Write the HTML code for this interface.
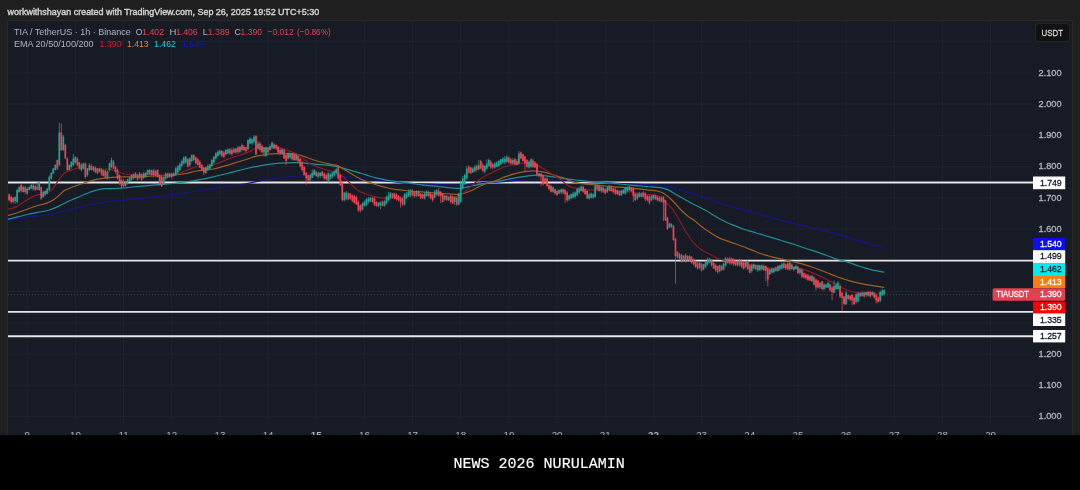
<!DOCTYPE html>
<html><head><meta charset="utf-8"><style>
html,body{margin:0;padding:0;background:#1f1f1f;}
body{width:1080px;height:490px;overflow:hidden;position:relative;}
</style></head><body>
<svg width="1080" height="490" viewBox="0 0 1080 490" style="position:absolute;left:0;top:0">
<defs><filter id="bl" x="0" y="0" width="1" height="1" color-interpolation-filters="sRGB"><feGaussianBlur stdDeviation="0.35"/></filter></defs>
<g filter="url(#bl)">
<rect width="1080" height="490" fill="#1f1f1f"/>
<rect x="7" y="20" width="1066" height="415" fill="#2a2a2a"/>
<rect x="8" y="21" width="1064" height="414" fill="#171b26"/>
<path d="M27.2 21V424.3M75.4 21V424.3M123.5 21V424.3M171.7 21V424.3M219.9 21V424.3M268.1 21V424.3M316.2 21V424.3M364.4 21V424.3M412.6 21V424.3M460.7 21V424.3M508.9 21V424.3M557.1 21V424.3M605.2 21V424.3M653.4 21V424.3M701.6 21V424.3M749.8 21V424.3M797.9 21V424.3M846.1 21V424.3M894.3 21V424.3M942.4 21V424.3M990.6 21V424.3M8 416.6H1032M8 385.4H1032M8 354.1H1032M8 322.9H1032M8 291.6H1032M8 260.4H1032M8 229.1H1032M8 197.9H1032M8 166.6H1032M8 135.4H1032M8 104.1H1032M8 72.9H1032M8 41.2H1032" stroke="#1f2330" stroke-width="1"/>
<path d="M8 182.54H1033M8 260.66H1033M8 311.91H1033M8 336.29H1033" stroke="#e6e6e6" stroke-width="1.9"/>
<path d="M8 294.7H993" stroke="#e5404f" stroke-width="0.8" stroke-dasharray="1 2" opacity="0.55"/>
<path d="M8.0 220.4C9.4 220.1 13.4 219.1 16.6 218.6C19.8 218.1 23.7 217.7 27.2 217.2C30.7 216.7 34.3 216.2 37.8 215.8C41.3 215.4 44.9 215.1 48.4 214.5C51.9 213.9 55.5 213.2 59.0 212.4C62.5 211.6 66.8 210.5 69.6 209.8C72.4 209.1 72.6 209.0 76.0 208.2C79.4 207.4 85.0 206.0 90.0 205.0C95.0 204.0 100.7 202.8 106.0 202.0C111.3 201.2 116.4 200.9 122.0 200.3C127.6 199.7 134.1 199.2 139.8 198.6C145.6 198.0 151.0 197.2 156.5 196.5C162.0 195.8 168.1 195.0 173.0 194.4C177.9 193.8 182.1 193.4 186.0 192.8C189.9 192.2 192.1 191.7 196.7 191.0C201.3 190.3 207.8 189.3 213.4 188.5C219.0 187.7 224.6 186.8 230.2 186.0C235.8 185.2 241.3 184.5 246.9 183.5C252.5 182.5 258.0 181.2 263.6 180.2C269.2 179.2 274.7 178.4 280.3 177.7C285.9 177.0 291.4 176.4 297.0 176.0C302.6 175.6 308.3 175.4 313.8 175.4C319.3 175.4 325.8 175.8 330.0 175.9C334.2 176.0 336.1 175.9 339.2 176.1C342.3 176.3 345.3 176.7 348.4 177.0C351.5 177.3 354.5 177.8 357.6 178.2C360.7 178.6 363.7 179.0 366.8 179.3C369.9 179.6 372.9 179.9 376.0 180.2C379.1 180.5 381.9 180.7 385.1 181.0C388.3 181.3 391.6 181.6 395.0 181.9C398.4 182.2 400.7 182.8 405.2 183.1C409.7 183.4 416.3 183.6 421.9 183.8C427.5 184.0 433.0 184.3 438.6 184.5C444.2 184.7 451.4 185.1 455.3 185.2C459.2 185.3 459.2 185.4 462.0 185.2C464.8 185.0 467.6 184.3 472.1 183.8C476.6 183.3 485.0 182.4 488.8 182.1C492.6 181.8 492.2 182.3 495.0 182.2C497.8 182.1 502.1 181.6 505.6 181.3C509.1 181.0 512.7 180.6 516.2 180.3C519.7 180.1 523.3 180.0 526.8 179.8C530.3 179.7 533.9 179.5 537.4 179.4C540.9 179.3 544.5 179.4 548.0 179.5C551.5 179.6 555.8 179.7 558.6 179.8C561.4 179.9 561.4 179.9 565.0 180.1C568.6 180.3 574.9 180.9 580.2 181.2C585.5 181.5 591.3 181.8 596.9 182.1C602.5 182.4 608.0 182.8 613.6 183.1C619.2 183.4 624.7 183.6 630.3 183.9C635.9 184.2 642.1 184.5 647.1 184.8C652.1 185.1 656.2 185.0 660.4 185.5C664.6 186.0 668.2 186.7 672.1 187.6C676.0 188.5 679.6 189.7 683.8 191.0C688.0 192.3 692.8 193.9 697.2 195.4C701.6 196.9 705.8 198.4 710.0 199.8C714.2 201.2 718.3 202.7 722.5 204.0C726.7 205.3 730.8 206.5 735.0 207.6C739.2 208.7 743.3 209.4 747.5 210.6C751.7 211.8 755.4 213.2 760.3 214.6C765.2 216.0 771.5 217.7 777.1 219.2C782.7 220.7 788.2 222.0 793.8 223.4C799.4 224.8 804.9 226.2 810.5 227.5C816.1 228.8 822.3 230.1 827.2 231.4C832.1 232.7 835.5 233.7 840.0 235.1C844.5 236.5 849.9 238.4 854.3 239.7C858.7 241.0 862.9 242.1 866.5 243.1C870.1 244.1 872.8 244.7 875.7 245.4C878.7 246.1 882.8 247.0 884.2 247.3" stroke="#15158c" stroke-width="1.2" fill="none"/><path d="M8.0 219.3C9.4 219.0 13.4 218.0 16.6 217.2C19.8 216.4 23.7 215.3 27.2 214.5C30.7 213.7 34.3 213.1 37.8 212.4C41.3 211.7 44.9 211.4 48.4 210.3C51.9 209.2 55.5 207.7 59.0 206.1C62.5 204.5 66.8 202.1 69.6 200.8C72.4 199.5 72.7 199.5 76.0 198.1C79.3 196.7 85.3 193.9 89.6 192.3C93.9 190.8 97.8 189.4 102.0 188.8C106.2 188.2 110.5 188.8 114.7 188.6C118.9 188.4 122.8 188.0 127.0 187.6C131.2 187.2 134.9 186.8 139.8 186.4C144.7 186.0 151.0 185.4 156.5 184.9C162.0 184.4 168.1 183.8 173.0 183.3C177.9 182.8 182.1 182.4 186.0 181.9C189.9 181.4 192.1 181.0 196.7 180.2C201.3 179.3 207.8 178.1 213.4 176.8C219.0 175.6 224.6 174.1 230.2 172.7C235.8 171.3 241.3 169.8 246.9 168.5C252.5 167.2 258.0 166.0 263.6 165.1C269.2 164.2 274.7 163.5 280.3 163.1C285.9 162.7 291.4 162.4 297.0 162.6C302.6 162.8 308.3 163.6 313.8 164.1C319.3 164.6 325.8 164.8 330.0 165.3C334.2 165.8 336.1 166.2 339.2 166.9C342.3 167.6 345.3 168.8 348.4 169.7C351.5 170.6 354.5 171.5 357.6 172.4C360.7 173.3 363.7 174.3 366.8 175.2C369.9 176.1 372.9 177.1 376.0 177.9C379.1 178.7 381.9 179.2 385.1 179.8C388.3 180.4 391.6 180.9 395.0 181.4C398.4 181.9 400.7 182.0 405.2 182.6C409.7 183.2 416.3 184.2 421.9 184.8C427.5 185.5 433.0 185.9 438.6 186.5C444.2 187.1 451.4 187.9 455.3 188.2C459.2 188.5 459.2 188.6 462.0 188.2C464.8 187.8 467.6 186.9 472.1 186.0C476.6 185.1 485.0 183.3 488.8 182.6C492.6 181.8 492.2 182.0 495.0 181.5C497.8 181.0 502.1 180.5 505.6 179.8C509.1 179.2 512.7 178.2 516.2 177.6C519.7 177.0 523.3 176.5 526.8 176.1C530.3 175.7 533.9 175.2 537.4 175.2C540.9 175.2 544.5 175.7 548.0 176.1C551.5 176.5 555.8 177.2 558.6 177.6C561.4 178.0 561.4 178.2 565.0 178.7C568.6 179.2 574.9 179.8 580.2 180.4C585.5 181.0 591.3 181.6 596.9 182.1C602.5 182.6 608.0 182.9 613.6 183.4C619.2 183.9 624.7 184.6 630.3 185.1C635.9 185.6 642.1 186.1 647.1 186.5C652.1 186.9 656.8 187.0 660.4 187.6C664.0 188.2 666.0 188.8 668.8 190.1C671.6 191.4 673.9 193.2 677.2 195.2C680.6 197.1 685.6 200.0 688.9 201.8C692.2 203.6 693.7 204.2 697.2 206.0C700.7 207.8 706.5 210.8 710.0 212.9C713.5 215.0 715.7 216.7 718.5 218.3C721.3 219.9 724.1 221.2 726.9 222.5C729.7 223.8 732.5 224.8 735.3 225.9C738.1 227.0 740.8 228.2 743.6 229.2C746.4 230.2 749.2 230.9 752.0 231.7C754.8 232.5 757.5 233.4 760.3 234.2C763.1 235.0 765.9 235.9 768.7 236.7C771.5 237.5 774.3 238.3 777.1 239.2C779.9 240.0 782.6 241.0 785.4 241.8C788.2 242.7 790.5 243.2 793.8 244.3C797.1 245.4 801.1 246.8 805.3 248.2C809.5 249.6 813.8 250.8 818.9 252.6C824.0 254.4 831.8 257.5 835.9 258.9C840.0 260.3 841.0 260.2 843.5 260.9C846.0 261.6 848.7 262.4 851.2 263.3C853.8 264.2 856.2 265.2 858.8 266.0C861.3 266.8 864.0 267.6 866.5 268.3C869.0 269.0 871.1 269.7 874.1 270.3C877.1 270.9 882.5 271.8 884.2 272.1" stroke="#1b9095" stroke-width="1.2" fill="none"/><path d="M8.0 215.6C9.4 215.2 13.4 214.1 16.6 213.0C19.8 211.9 23.7 210.4 27.2 209.2C30.7 207.9 34.6 206.5 37.8 205.5C41.0 204.5 43.6 204.4 46.3 203.4C48.9 202.4 51.6 201.0 53.7 199.7C55.8 198.4 57.2 197.0 59.0 195.5C60.8 194.0 62.5 191.8 64.3 190.6C66.1 189.4 67.6 189.0 69.6 188.2C71.5 187.4 73.8 186.6 76.0 185.8C78.2 185.0 79.5 184.6 82.9 183.5C86.3 182.4 91.8 180.4 96.3 179.4C100.8 178.4 105.2 178.1 109.7 177.7C114.2 177.3 118.0 177.1 123.0 176.9C128.0 176.7 134.2 176.8 139.8 176.7C145.4 176.5 151.0 176.2 156.5 176.0C162.0 175.8 168.1 175.6 173.0 175.2C177.9 174.8 182.1 174.2 186.0 173.5C189.9 172.8 192.1 171.8 196.7 171.0C201.3 170.2 207.8 170.1 213.4 169.0C219.0 167.9 224.6 165.9 230.2 164.3C235.8 162.7 242.7 160.6 246.9 159.3C251.1 158.0 252.5 157.1 255.3 156.3C258.1 155.6 259.4 155.3 263.6 154.8C267.8 154.3 274.7 153.5 280.3 153.4C285.9 153.3 291.4 153.2 297.0 154.3C302.6 155.4 308.3 158.4 313.8 160.0C319.3 161.6 326.1 163.2 330.0 164.1C333.9 165.0 335.1 164.7 337.4 165.5C339.7 166.3 341.2 167.7 343.8 169.2C346.4 170.7 349.9 172.9 353.0 174.7C356.1 176.5 359.1 178.4 362.2 179.8C365.3 181.2 368.3 181.9 371.4 183.0C374.4 184.1 377.4 185.3 380.5 186.2C383.6 187.1 387.0 187.9 389.7 188.5C392.4 189.1 394.2 189.3 396.8 189.6C399.4 189.9 401.0 190.1 405.2 190.5C409.4 190.9 416.3 191.4 421.9 191.8C427.5 192.2 433.0 192.8 438.6 193.2C444.2 193.6 451.4 194.2 455.3 194.3C459.2 194.4 459.2 194.5 462.0 193.8C464.8 193.1 468.8 191.6 472.1 190.2C475.5 188.8 478.3 186.8 482.1 185.2C485.9 183.6 491.1 182.2 495.0 180.8C498.9 179.4 502.1 177.8 505.6 176.6C509.1 175.4 512.7 174.3 516.2 173.4C519.7 172.5 523.6 171.7 526.8 171.3C530.0 170.9 532.6 170.9 535.3 171.0C537.9 171.1 540.2 171.3 542.7 171.8C545.2 172.3 547.5 173.1 550.1 173.9C552.8 174.7 556.1 175.8 558.6 176.6C561.1 177.4 562.8 177.7 565.0 178.5C567.2 179.3 569.3 180.8 571.8 181.6C574.3 182.4 576.0 182.8 580.2 183.4C584.4 184.0 591.3 184.5 596.9 185.1C602.5 185.7 608.0 186.3 613.6 186.8C619.2 187.3 624.7 187.6 630.3 188.1C635.9 188.6 642.6 189.3 647.1 189.8C651.6 190.3 654.3 190.4 657.1 191.0C659.9 191.6 661.3 192.0 663.8 193.5C666.3 195.0 669.3 197.5 672.1 200.2C674.9 202.9 677.8 206.7 680.5 209.5C683.2 212.3 686.5 215.1 688.6 216.8C690.8 218.5 691.2 218.2 693.4 219.8C695.6 221.5 699.0 224.6 701.8 226.7C704.6 228.8 707.4 230.8 710.2 232.6C713.0 234.4 715.7 236.2 718.5 237.6C721.3 239.0 724.1 239.9 726.9 240.9C729.7 241.9 732.5 242.8 735.3 243.8C738.1 244.8 740.8 245.8 743.6 246.8C746.4 247.9 749.2 249.0 752.0 250.1C754.8 251.2 757.5 252.5 760.3 253.5C763.1 254.5 765.9 255.2 768.7 256.0C771.5 256.8 774.3 257.5 777.1 258.1C779.9 258.7 782.6 259.2 785.4 259.8C788.2 260.4 791.0 261.1 793.8 261.8C796.6 262.5 799.3 263.0 802.1 263.8C804.9 264.6 807.7 265.6 810.5 266.5C813.3 267.4 815.9 268.4 818.9 269.5C821.9 270.6 825.5 272.1 828.3 273.2C831.1 274.3 833.4 275.2 835.9 276.2C838.4 277.2 841.0 278.1 843.5 279.0C846.0 279.9 848.7 280.6 851.2 281.3C853.8 282.0 856.2 282.5 858.8 283.1C861.3 283.7 864.0 284.2 866.5 284.7C869.0 285.2 871.1 285.5 874.1 285.9C877.1 286.3 882.5 287.1 884.2 287.3" stroke="#a05e1f" stroke-width="1.2" fill="none"/><path d="M8.0 209.4C9.4 208.9 13.4 208.2 16.6 206.6C19.8 205.0 23.7 201.7 27.2 199.7C30.7 197.7 35.1 195.4 37.8 194.6C40.4 193.8 41.3 195.2 43.1 194.8C44.9 194.4 46.6 193.5 48.4 192.3C50.2 191.1 51.9 189.6 53.7 187.5C55.5 185.4 57.2 181.9 59.0 179.5C60.8 177.1 62.5 174.6 64.3 173.2C66.1 171.8 67.3 171.7 69.6 170.8C71.9 169.9 74.6 168.4 77.9 168.0C81.2 167.6 86.0 168.3 89.6 168.5C93.2 168.7 96.2 169.2 99.6 169.3C102.9 169.4 106.9 169.0 109.7 169.3C112.5 169.6 114.2 170.3 116.4 171.0C118.6 171.7 120.2 172.8 123.0 173.5C125.8 174.2 128.9 174.8 133.1 175.0C137.3 175.2 142.8 174.5 148.1 174.5C153.4 174.5 160.2 175.2 164.9 175.2C169.7 175.2 173.1 175.1 176.6 174.3C180.1 173.5 182.7 171.8 186.0 170.5C189.3 169.2 193.5 167.2 196.7 166.8C199.9 166.4 202.3 168.6 205.1 168.3C207.9 168.0 209.2 166.7 213.4 165.0C217.6 163.3 224.6 160.5 230.2 158.4C235.8 156.3 242.7 154.2 246.9 152.6C251.1 151.0 252.5 149.7 255.3 149.0C258.1 148.3 260.0 148.4 263.6 148.2C267.2 148.0 273.6 147.4 277.0 147.6C280.4 147.8 280.4 148.1 283.7 149.2C287.0 150.3 292.6 151.8 297.0 154.3C301.4 156.8 306.2 161.6 310.4 164.0C314.6 166.4 318.7 167.3 322.1 168.5C325.5 169.7 328.1 170.4 331.0 171.3C333.9 172.2 336.3 172.1 339.2 173.8C342.1 175.5 345.3 178.8 348.4 181.6C351.5 184.3 354.5 188.2 357.6 190.3C360.7 192.4 363.7 193.1 366.8 194.2C369.9 195.3 373.0 196.2 376.0 196.9C379.0 197.6 381.5 198.1 385.0 198.3C388.5 198.5 393.4 198.1 396.8 197.9C400.2 197.7 402.4 197.2 405.2 196.9C408.0 196.6 410.7 196.3 413.5 196.0C416.3 195.7 419.1 195.4 421.9 195.3C424.7 195.2 427.5 195.2 430.3 195.2C433.1 195.2 435.8 195.1 438.6 195.2C441.4 195.3 444.2 195.7 447.0 196.0C449.8 196.3 452.8 197.2 455.3 196.9C457.8 196.6 459.8 195.7 462.0 194.3C464.2 192.9 466.5 190.4 468.7 188.5C470.9 186.6 472.9 184.5 475.4 182.6C477.9 180.7 481.0 178.5 483.8 176.8C486.6 175.1 489.3 174.0 492.1 172.6C494.9 171.2 497.7 169.8 500.5 168.6C503.3 167.4 506.2 166.3 508.8 165.5C511.4 164.7 513.2 164.3 516.2 163.9C519.2 163.5 523.6 162.8 526.8 162.8C530.0 162.8 532.6 163.0 535.3 163.9C537.9 164.8 540.2 166.8 542.7 168.3C545.2 169.8 547.5 171.2 550.1 172.9C552.8 174.6 556.1 176.5 558.6 178.2C561.1 179.9 562.8 181.8 565.0 183.3C567.2 184.8 569.3 186.5 571.8 187.4C574.3 188.3 577.4 188.4 580.2 188.8C583.0 189.2 585.7 189.8 588.5 190.0C591.3 190.2 594.1 189.8 596.9 189.8C599.7 189.8 602.5 189.6 605.3 189.8C608.1 190.0 610.8 190.7 613.6 191.0C616.4 191.3 619.2 191.4 622.0 191.5C624.8 191.6 627.5 191.5 630.3 191.8C633.1 192.1 635.9 193.1 638.7 193.5C641.5 193.9 644.3 194.0 647.1 194.3C649.9 194.6 653.2 194.8 655.4 195.2C657.6 195.6 658.7 195.7 660.4 196.8C662.1 197.9 663.5 199.9 665.5 201.8C667.5 203.8 670.1 206.1 672.1 208.5C674.1 210.9 675.5 213.7 677.2 216.5C678.9 219.3 680.7 222.7 682.2 225.3C683.7 227.9 684.5 229.4 686.4 232.3C688.3 235.2 690.8 239.6 693.4 242.6C696.0 245.6 699.0 248.1 701.8 250.1C704.6 252.1 707.4 252.9 710.2 254.3C713.0 255.8 715.7 257.7 718.5 258.8C721.3 259.9 724.1 260.4 726.9 261.0C729.7 261.6 732.5 262.3 735.3 262.7C738.1 263.1 740.8 263.1 743.6 263.5C746.4 263.9 749.2 264.6 752.0 265.2C754.8 265.8 757.5 266.7 760.3 267.2C763.1 267.7 765.9 268.1 768.7 268.2C771.5 268.3 774.3 267.9 777.1 267.7C779.9 267.5 782.6 266.8 785.4 266.8C788.2 266.8 791.0 267.1 793.8 267.5C796.6 267.9 799.3 268.6 802.1 269.3C804.9 270.0 807.7 270.8 810.5 271.9C813.3 272.9 815.9 274.2 818.9 275.6C821.9 277.0 825.5 278.9 828.3 280.3C831.1 281.7 833.4 282.8 835.9 284.2C838.4 285.6 841.0 287.3 843.5 288.5C846.0 289.7 848.7 290.8 851.2 291.5C853.8 292.2 856.2 292.5 858.8 292.8C861.3 293.1 864.0 293.3 866.5 293.5C869.0 293.7 871.1 293.7 874.1 293.9C877.1 294.1 882.5 294.5 884.2 294.6" stroke="#8c1a22" stroke-width="1.2" fill="none"/>
<path d="M15.16 196.3V204.0M17.16 188.7V203.5M19.17 186.5V192.8M25.19 185.7V193.8M29.21 186.4V190.4M31.21 183.9V189.1M33.22 183.9V190.5M39.24 181.8V190.8M43.26 190.7V198.0M45.26 189.8V196.1M47.27 188.0V194.3M49.28 175.5V191.1M51.28 172.3V179.7M53.29 167.9V174.1M55.30 164.2V170.5M59.31 122.5V166.7M63.33 135.0V151.0M69.35 164.2V170.4M71.36 161.0V168.7M73.36 154.0V166.4M75.37 156.4V163.7M81.39 163.2V171.5M83.40 162.5V169.4M87.41 168.1V176.6M89.42 163.2V171.2M93.43 166.1V171.8M99.46 167.5V172.2M107.48 170.6V179.4M109.49 162.5V171.7M111.50 157.6V168.2M125.55 180.8V186.5M127.55 178.9V184.4M129.56 177.0V182.4M131.57 174.2V181.0M135.58 172.1V178.2M139.60 171.9V179.0M143.61 172.1V178.6M145.62 171.7V177.6M147.62 169.5V175.1M149.63 168.9V175.3M155.65 169.6V176.4M163.68 176.5V184.8M165.69 172.4V179.9M169.70 172.5V177.8M173.72 172.1V176.6M175.72 166.8V175.9M177.73 165.0V174.2M179.74 162.7V171.0M181.75 159.5V167.6M183.75 156.4V164.8M185.76 155.8V163.8M189.77 157.1V166.9M191.78 154.3V162.4M205.83 166.5V174.0M207.84 164.3V170.8M209.84 163.9V169.3M211.85 158.7V166.7M213.86 156.2V164.3M215.87 152.1V159.4M217.87 150.2V156.9M219.88 149.7V155.0M225.90 149.1V155.5M227.91 148.4V154.0M233.93 147.5V153.4M239.95 145.8V152.9M247.98 139.2V150.3M249.99 137.1V144.2M251.99 138.3V144.7M254.00 135.0V143.0M258.01 140.9V149.2M264.04 147.0V156.8M266.04 146.3V156.9M270.06 144.4V150.8M272.06 141.7V149.1M282.10 148.6V155.0M288.12 152.5V159.4M290.13 152.7V159.2M296.15 153.5V160.9M310.20 173.5V181.0M312.21 169.3V178.1M314.21 168.9V175.5M318.23 171.9V178.5M320.23 172.0V177.6M328.26 171.7V182.7M330.27 173.2V179.8M332.28 171.7V178.4M334.28 169.8V176.6M336.29 167.8V174.5M344.32 191.9V201.6M346.33 191.0V200.2M362.38 202.3V210.5M364.39 200.5V206.5M366.40 198.2V206.2M368.40 196.8V203.6M370.41 196.9V202.1M378.44 202.0V207.3M380.45 201.0V209.4M384.46 200.3V206.7M386.47 195.5V204.4M388.48 191.8V201.5M390.48 192.2V199.1M404.53 193.0V205.5M406.54 191.9V199.0M408.55 189.3V196.7M410.55 188.8V196.7M416.57 190.3V197.0M424.60 191.9V199.5M426.61 190.2V196.6M434.64 190.0V198.3M436.65 189.1V195.8M444.67 194.8V200.5M448.69 196.2V200.9M454.71 196.4V205.2M458.72 192.6V205.5M460.73 181.5V202.9M462.74 176.0V188.9M464.74 173.6V185.1M466.75 165.9V179.5M472.77 167.3V173.0M474.78 165.1V172.4M478.79 160.0V170.3M484.82 165.1V173.5M486.82 159.2V169.9M488.83 158.5V167.0M494.85 161.9V168.6M496.86 161.2V167.3M498.86 160.0V167.0M500.87 158.8V165.1M502.88 157.1V163.9M504.89 155.9V164.3M506.89 155.4V162.6M512.91 158.2V164.7M518.94 150.9V164.8M528.97 160.5V168.7M530.98 158.4V167.9M539.01 172.9V177.6M553.06 186.3V193.0M559.08 189.4V194.0M561.08 188.7V194.1M569.11 194.7V201.0M571.12 193.3V199.6M573.13 191.7V198.4M575.13 191.5V198.5M577.14 187.9V196.3M579.15 186.7V194.1M581.16 185.6V191.6M589.18 193.3V199.8M591.19 192.5V198.5M593.20 193.1V198.7M595.20 183.4V197.9M601.23 186.2V192.6M607.25 186.2V193.0M609.25 184.8V191.4M621.30 189.7V195.7M623.30 188.9V194.0M625.31 187.1V194.8M627.32 186.4V192.3M629.33 185.9V191.2M637.35 192.8V199.8M639.36 192.0V197.5M641.37 192.5V197.6M651.40 195.0V201.1M653.41 194.7V200.1M661.44 196.2V202.3M669.47 222.6V228.1M671.47 223.3V228.1M679.50 252.6V259.5M683.52 255.2V261.2M687.53 255.3V261.1M699.57 262.1V269.2M703.59 263.9V270.4M705.59 260.6V268.0M707.60 257.5V265.6M709.61 257.8V263.2M719.64 264.6V272.4M723.66 262.8V270.8M725.67 256.8V266.7M737.71 259.4V266.5M745.74 260.7V268.2M751.76 263.8V272.8M753.76 263.4V269.1M757.78 264.4V272.0M759.79 264.7V271.0M761.79 264.6V270.6M769.82 268.8V275.0M771.83 267.8V273.4M773.84 267.8V273.3M777.85 265.3V271.8M779.86 264.6V270.8M781.86 262.7V269.7M789.89 261.5V271.0M793.91 266.3V271.5M795.91 264.5V270.0M799.93 268.3V274.7M811.97 274.5V282.1M820.00 282.2V288.9M824.01 282.8V290.6M826.02 283.9V288.2M828.03 281.4V287.9M834.05 280.5V293.6M836.05 282.9V290.0M838.06 281.1V289.5M846.09 290.5V305.1M856.13 293.3V303.8M858.13 291.9V302.5M862.15 291.4V296.5M866.16 291.6V296.9M872.18 291.1V296.3M880.21 290.6V302.1M882.22 288.8V296.3M884.22 289.7V295.0" stroke="#22a393" stroke-width="0.75"/><path d="M9.14 193.4V201.5M11.14 195.3V204.0M13.15 196.9V203.2M21.18 183.5V192.5M23.19 185.6V192.5M27.20 187.3V194.9M35.23 184.5V190.9M37.24 182.0V190.2M41.25 186.6V200.0M57.31 159.6V170.0M61.32 123.3V150.9M65.33 143.8V159.2M67.34 157.2V171.0M77.38 157.4V166.4M79.38 161.9V169.6M85.41 162.5V178.5M91.43 164.2V170.4M95.44 166.5V173.0M97.45 168.0V174.1M101.46 168.0V175.9M103.47 169.6V176.5M105.48 169.8V178.4M113.50 160.2V169.2M115.51 166.2V173.5M117.52 168.5V179.5M119.53 174.3V184.9M121.53 178.3V188.6M123.54 179.3V187.2M133.58 173.4V179.2M137.59 174.3V180.6M141.60 173.5V181.1M151.64 169.5V175.6M153.65 168.7V176.4M157.66 169.4V177.4M159.67 174.6V185.5M161.67 175.6V187.0M167.70 172.9V178.2M171.71 173.0V178.6M187.77 158.0V167.3M193.79 154.1V161.5M195.80 156.4V164.5M197.80 157.7V165.6M199.81 160.3V168.0M201.82 163.8V171.1M203.82 166.9V175.0M221.89 150.0V157.5M223.89 150.9V158.4M229.92 148.1V155.0M231.92 147.6V155.7M235.94 147.8V153.6M237.94 145.9V153.8M241.96 143.7V151.4M243.97 145.1V151.3M245.97 146.8V152.6M256.01 134.9V155.0M260.02 141.9V151.5M262.03 144.2V153.2M268.05 147.1V153.3M274.07 143.1V148.9M276.08 144.3V149.9M278.09 145.5V154.3M280.09 147.6V155.2M284.11 148.6V159.1M286.11 154.0V165.0M292.13 153.0V160.5M294.14 153.0V161.2M298.16 155.0V162.8M300.16 157.9V167.6M302.17 161.1V171.7M304.18 166.2V175.7M306.18 171.8V185.2M308.19 174.4V182.0M316.22 170.9V177.0M322.24 170.8V176.4M324.25 172.4V179.9M326.26 173.5V180.4M338.30 165.6V180.1M340.31 173.8V185.8M342.31 181.6V201.5M348.33 192.3V200.2M350.34 193.0V199.8M352.35 194.4V202.1M354.35 194.9V203.8M356.36 195.8V204.8M358.37 200.1V212.0M360.38 204.2V212.5M372.42 197.1V202.9M374.43 197.0V206.1M376.43 200.8V206.8M382.45 200.4V206.4M392.49 192.9V198.8M394.50 192.7V199.2M396.50 193.2V200.4M398.51 195.1V201.2M400.52 196.6V207.7M402.52 197.8V205.7M412.56 189.3V196.0M414.57 191.0V197.7M418.58 190.2V196.6M420.59 192.8V199.1M422.60 193.5V199.0M428.62 190.8V197.4M430.62 193.1V199.2M432.63 193.8V201.9M438.65 187.7V196.6M440.66 191.1V203.0M442.67 193.0V202.4M446.68 194.8V200.8M450.69 194.4V203.7M452.70 195.2V204.0M456.72 196.7V205.9M468.76 165.4V173.6M470.77 166.9V174.0M476.79 164.5V171.7M480.80 159.7V169.5M482.81 163.2V172.4M490.84 160.0V169.2M492.84 162.8V169.1M508.90 156.3V163.8M510.91 158.1V164.3M514.92 157.8V165.7M516.93 159.1V165.4M520.94 151.7V159.4M522.95 153.7V161.6M524.96 155.8V171.8M526.96 159.2V168.5M532.99 158.7V168.0M534.99 161.0V168.1M537.00 163.0V176.5M541.01 172.8V186.0M543.02 174.5V185.4M545.03 177.1V183.1M547.03 176.7V187.0M549.04 184.0V190.5M551.05 185.1V192.6M555.06 188.5V194.9M557.07 190.2V195.6M563.09 188.4V194.3M565.10 188.7V202.7M567.11 190.8V201.9M583.16 185.5V192.8M585.17 188.6V194.8M587.18 189.9V199.1M597.21 183.3V191.0M599.22 184.6V191.7M603.23 186.1V193.1M605.24 188.4V194.3M611.26 185.3V191.7M613.27 187.8V193.6M615.28 187.6V195.1M617.28 189.6V194.8M619.29 190.2V196.2M631.33 186.9V191.9M633.34 187.1V201.8M635.35 193.0V200.8M643.37 191.1V197.7M645.38 192.2V201.1M647.39 195.1V201.4M649.40 195.4V204.4M655.42 194.7V199.8M657.42 195.6V201.3M659.43 196.3V201.8M663.45 196.1V221.0M665.45 199.7V221.0M667.46 216.6V230.0M673.48 225.0V241.0M675.49 237.8V283.6M677.50 250.9V258.5M681.51 253.6V262.6M685.52 253.4V262.7M689.54 255.1V261.9M691.54 255.8V263.6M693.55 258.6V265.5M695.56 260.3V268.0M697.57 261.9V269.7M701.58 262.7V271.5M711.62 259.0V266.7M713.62 262.2V269.0M715.63 263.8V271.9M717.64 265.5V273.5M721.65 264.7V270.9M727.67 257.5V263.6M729.68 256.7V264.8M731.69 257.4V264.7M733.69 257.9V265.7M735.70 259.3V266.2M739.71 258.6V266.7M741.72 259.4V268.4M743.73 261.0V269.8M747.74 260.3V270.3M749.75 264.2V273.3M755.77 264.5V270.3M763.80 264.5V270.9M765.81 265.5V281.0M767.81 267.3V286.1M775.84 266.5V271.7M783.87 262.0V268.8M785.88 263.5V270.1M787.88 261.8V270.2M791.90 263.4V269.8M797.92 265.7V274.0M801.93 268.5V278.0M803.94 272.5V278.6M805.95 273.5V279.7M807.96 273.8V281.0M809.96 275.4V281.1M813.98 275.9V285.5M815.98 278.5V290.5M817.99 279.7V288.5M822.01 280.9V290.5M830.03 283.3V291.6M832.04 285.7V300.4M840.07 284.3V298.0M842.08 291.6V311.0M844.08 296.0V305.6M848.10 294.6V299.7M850.10 294.7V301.1M852.11 294.2V305.5M854.12 296.9V305.3M860.14 292.4V297.5M864.15 291.6V297.6M868.17 290.5V296.5M870.18 290.7V297.4M874.19 292.0V298.3M876.20 294.2V303.5M878.20 296.6V302.7" stroke="#ee4452" stroke-width="0.75"/><path d="M14.31 197.0h1.7V201.0h-1.7zM16.31 190.0h1.7V202.0h-1.7zM18.32 187.0h1.7V192.0h-1.7zM24.34 187.5h1.7V192.0h-1.7zM28.36 187.0h1.7V190.0h-1.7zM30.36 185.0h1.7V188.6h-1.7zM32.37 185.5h1.7V189.3h-1.7zM38.39 182.5h1.7V190.0h-1.7zM42.41 192.0h1.7V197.0h-1.7zM44.41 191.0h1.7V194.4h-1.7zM46.42 188.5h1.7V193.5h-1.7zM48.43 177.0h1.7V190.0h-1.7zM50.43 172.7h1.7V178.5h-1.7zM52.44 168.5h1.7V173.5h-1.7zM54.45 165.0h1.7V170.0h-1.7zM58.46 132.5h1.7V165.0h-1.7zM62.48 136.7h1.7V150.0h-1.7zM68.50 165.0h1.7V170.0h-1.7zM70.51 162.0h1.7V167.0h-1.7zM72.51 158.5h1.7V165.0h-1.7zM74.52 156.8h1.7V162.6h-1.7zM80.54 165.0h1.7V170.0h-1.7zM82.55 163.5h1.7V168.5h-1.7zM86.56 168.5h1.7V175.0h-1.7zM88.57 165.0h1.7V170.0h-1.7zM92.58 166.8h1.7V170.0h-1.7zM98.61 168.5h1.7V171.8h-1.7zM106.63 171.8h1.7V178.5h-1.7zM108.64 163.5h1.7V170.0h-1.7zM110.65 160.0h1.7V167.0h-1.7zM124.70 181.8h1.7V186.0h-1.7zM126.70 179.4h1.7V182.7h-1.7zM128.71 177.7h1.7V181.0h-1.7zM130.72 175.0h1.7V179.4h-1.7zM134.73 173.5h1.7V177.7h-1.7zM138.75 173.5h1.7V177.7h-1.7zM142.76 173.5h1.7V178.2h-1.7zM144.77 172.7h1.7V176.9h-1.7zM146.78 170.0h1.7V174.3h-1.7zM148.78 170.0h1.7V173.5h-1.7zM154.80 171.0h1.7V175.2h-1.7zM162.83 176.9h1.7V183.5h-1.7zM164.84 173.5h1.7V178.5h-1.7zM168.85 173.5h1.7V176.9h-1.7zM172.87 173.5h1.7V176.0h-1.7zM174.87 168.5h1.7V175.0h-1.7zM176.88 166.4h1.7V172.5h-1.7zM178.89 164.3h1.7V170.0h-1.7zM180.90 161.0h1.7V166.0h-1.7zM182.90 157.6h1.7V163.5h-1.7zM184.91 156.8h1.7V162.6h-1.7zM188.92 158.4h1.7V165.1h-1.7zM190.93 155.0h1.7V161.0h-1.7zM204.98 167.6h1.7V172.7h-1.7zM206.99 166.0h1.7V170.0h-1.7zM208.99 164.3h1.7V168.5h-1.7zM211.00 160.0h1.7V166.0h-1.7zM213.01 156.8h1.7V162.6h-1.7zM215.02 153.4h1.7V158.4h-1.7zM217.02 151.8h1.7V156.0h-1.7zM219.03 151.0h1.7V154.3h-1.7zM225.05 150.0h1.7V154.3h-1.7zM227.06 149.2h1.7V153.4h-1.7zM233.08 149.2h1.7V152.6h-1.7zM239.10 146.7h1.7V151.8h-1.7zM247.13 140.0h1.7V149.0h-1.7zM249.14 138.4h1.7V143.4h-1.7zM251.14 139.2h1.7V143.4h-1.7zM253.15 136.7h1.7V141.7h-1.7zM257.16 143.4h1.7V148.4h-1.7zM263.19 147.6h1.7V152.6h-1.7zM265.19 147.6h1.7V156.0h-1.7zM269.21 146.0h1.7V150.0h-1.7zM271.21 142.6h1.7V147.6h-1.7zM281.25 149.2h1.7V153.4h-1.7zM287.27 153.4h1.7V158.4h-1.7zM289.28 153.4h1.7V157.6h-1.7zM295.30 155.0h1.7V160.0h-1.7zM309.35 175.2h1.7V180.2h-1.7zM311.36 172.7h1.7V177.7h-1.7zM313.36 170.0h1.7V175.0h-1.7zM317.38 172.7h1.7V176.8h-1.7zM319.38 172.7h1.7V176.0h-1.7zM327.41 173.5h1.7V181.9h-1.7zM329.42 174.3h1.7V178.5h-1.7zM331.43 172.7h1.7V176.8h-1.7zM333.43 171.0h1.7V175.2h-1.7zM335.44 169.3h1.7V173.5h-1.7zM343.47 192.7h1.7V200.3h-1.7zM345.48 192.7h1.7V198.6h-1.7zM361.53 203.5h1.7V209.4h-1.7zM363.54 201.9h1.7V206.0h-1.7zM365.55 199.4h1.7V205.2h-1.7zM367.55 198.5h1.7V201.9h-1.7zM369.56 197.7h1.7V201.0h-1.7zM377.59 202.7h1.7V206.0h-1.7zM379.60 202.7h1.7V205.2h-1.7zM383.61 201.0h1.7V206.0h-1.7zM385.62 196.9h1.7V203.5h-1.7zM387.62 195.2h1.7V200.2h-1.7zM389.63 192.7h1.7V197.7h-1.7zM403.68 194.3h1.7V204.4h-1.7zM405.69 193.5h1.7V197.7h-1.7zM407.70 191.8h1.7V196.0h-1.7zM409.70 190.2h1.7V195.2h-1.7zM415.72 191.0h1.7V195.2h-1.7zM423.75 193.5h1.7V198.5h-1.7zM425.76 191.8h1.7V196.0h-1.7zM433.79 191.8h1.7V197.7h-1.7zM435.80 190.2h1.7V194.3h-1.7zM443.82 196.0h1.7V199.4h-1.7zM447.84 196.9h1.7V200.2h-1.7zM453.86 196.9h1.7V201.9h-1.7zM457.87 193.5h1.7V204.4h-1.7zM459.88 182.6h1.7V201.9h-1.7zM461.89 178.5h1.7V188.5h-1.7zM463.89 175.0h1.7V183.5h-1.7zM465.90 168.4h1.7V178.5h-1.7zM471.92 168.4h1.7V172.6h-1.7zM473.93 166.8h1.7V170.9h-1.7zM477.94 165.0h1.7V169.3h-1.7zM483.97 165.9h1.7V171.8h-1.7zM485.97 163.4h1.7V168.4h-1.7zM487.98 160.0h1.7V166.0h-1.7zM494.00 163.4h1.7V167.6h-1.7zM496.01 162.6h1.7V166.8h-1.7zM498.01 160.9h1.7V165.9h-1.7zM500.02 159.2h1.7V164.2h-1.7zM502.03 158.4h1.7V162.6h-1.7zM504.04 158.4h1.7V162.6h-1.7zM506.04 156.7h1.7V161.7h-1.7zM512.06 160.0h1.7V163.4h-1.7zM518.09 153.4h1.7V163.4h-1.7zM528.12 161.7h1.7V167.6h-1.7zM530.13 159.2h1.7V166.7h-1.7zM538.16 173.4h1.7V175.9h-1.7zM552.21 187.6h1.7V191.8h-1.7zM558.23 190.1h1.7V193.5h-1.7zM560.23 189.3h1.7V192.6h-1.7zM568.26 195.2h1.7V199.3h-1.7zM570.27 194.3h1.7V198.5h-1.7zM572.28 193.5h1.7V197.7h-1.7zM574.28 192.6h1.7V196.8h-1.7zM576.29 189.3h1.7V195.2h-1.7zM578.30 188.5h1.7V192.6h-1.7zM580.31 186.8h1.7V191.0h-1.7zM588.33 194.3h1.7V198.5h-1.7zM590.34 193.5h1.7V197.7h-1.7zM592.35 194.3h1.7V197.7h-1.7zM594.35 186.0h1.7V196.8h-1.7zM600.38 186.8h1.7V191.0h-1.7zM606.40 187.6h1.7V191.8h-1.7zM608.40 186.0h1.7V190.1h-1.7zM620.45 191.0h1.7V195.2h-1.7zM622.45 190.1h1.7V193.5h-1.7zM624.46 187.6h1.7V193.5h-1.7zM626.47 187.6h1.7V191.0h-1.7zM628.48 186.8h1.7V190.1h-1.7zM636.50 194.3h1.7V198.5h-1.7zM638.51 193.5h1.7V196.8h-1.7zM640.52 193.5h1.7V196.8h-1.7zM650.55 196.0h1.7V200.2h-1.7zM652.56 195.2h1.7V198.5h-1.7zM660.59 197.7h1.7V201.8h-1.7zM668.62 223.4h1.7V227.5h-1.7zM670.62 224.2h1.7V226.7h-1.7zM678.65 254.3h1.7V258.5h-1.7zM682.67 256.0h1.7V260.2h-1.7zM686.68 256.0h1.7V260.2h-1.7zM698.72 262.7h1.7V267.7h-1.7zM702.74 264.3h1.7V269.3h-1.7zM704.74 261.8h1.7V266.8h-1.7zM706.75 259.3h1.7V264.3h-1.7zM708.76 259.3h1.7V262.7h-1.7zM718.79 265.2h1.7V271.0h-1.7zM722.81 263.5h1.7V269.3h-1.7zM724.82 258.5h1.7V265.2h-1.7zM736.86 261.0h1.7V265.2h-1.7zM744.89 261.8h1.7V266.8h-1.7zM750.91 265.2h1.7V271.0h-1.7zM752.91 264.3h1.7V268.5h-1.7zM756.93 265.2h1.7V270.2h-1.7zM758.94 265.2h1.7V270.2h-1.7zM760.94 265.2h1.7V269.3h-1.7zM768.97 269.3h1.7V274.4h-1.7zM770.98 268.5h1.7V272.7h-1.7zM772.99 268.5h1.7V271.9h-1.7zM777.00 266.0h1.7V271.0h-1.7zM779.01 265.2h1.7V269.3h-1.7zM781.01 264.3h1.7V268.5h-1.7zM789.04 262.7h1.7V269.3h-1.7zM793.06 266.8h1.7V269.8h-1.7zM795.06 266.0h1.7V269.1h-1.7zM799.08 269.1h1.7V272.9h-1.7zM811.12 276.0h1.7V281.3h-1.7zM819.15 282.8h1.7V287.4h-1.7zM823.16 284.4h1.7V289.0h-1.7zM825.17 284.4h1.7V287.4h-1.7zM827.18 282.8h1.7V287.4h-1.7zM833.20 285.9h1.7V292.8h-1.7zM835.20 284.4h1.7V289.0h-1.7zM837.21 282.8h1.7V289.0h-1.7zM845.24 292.8h1.7V304.3h-1.7zM855.28 294.3h1.7V302.0h-1.7zM857.28 293.5h1.7V301.2h-1.7zM861.30 292.8h1.7V295.8h-1.7zM865.31 292.0h1.7V295.1h-1.7zM871.33 292.0h1.7V295.1h-1.7zM879.36 292.0h1.7V301.2h-1.7zM881.37 290.5h1.7V295.1h-1.7zM883.37 289.7h1.7V294.3h-1.7z" fill="#22a393"/><path d="M8.29 194.4h1.7V200.3h-1.7zM10.29 197.0h1.7V202.0h-1.7zM12.30 198.0h1.7V202.0h-1.7zM20.33 185.0h1.7V191.0h-1.7zM22.34 187.0h1.7V192.0h-1.7zM26.35 188.6h1.7V193.6h-1.7zM34.38 186.0h1.7V190.0h-1.7zM36.39 187.0h1.7V189.5h-1.7zM40.40 187.0h1.7V198.6h-1.7zM56.46 160.0h1.7V168.5h-1.7zM60.47 132.5h1.7V150.0h-1.7zM64.48 145.0h1.7V158.5h-1.7zM66.49 158.5h1.7V170.0h-1.7zM76.53 158.5h1.7V165.0h-1.7zM78.53 162.6h1.7V168.5h-1.7zM84.56 163.5h1.7V176.9h-1.7zM90.58 166.0h1.7V170.0h-1.7zM94.59 167.7h1.7V171.8h-1.7zM96.60 168.5h1.7V173.5h-1.7zM100.61 169.3h1.7V174.3h-1.7zM102.62 170.2h1.7V176.0h-1.7zM104.63 171.0h1.7V177.7h-1.7zM112.65 161.8h1.7V168.5h-1.7zM114.66 166.8h1.7V171.8h-1.7zM116.67 170.0h1.7V178.5h-1.7zM118.68 175.0h1.7V183.5h-1.7zM120.68 180.0h1.7V186.0h-1.7zM122.69 180.9h1.7V186.0h-1.7zM132.73 174.2h1.7V178.6h-1.7zM136.74 175.0h1.7V179.4h-1.7zM140.75 174.3h1.7V179.4h-1.7zM150.79 170.0h1.7V175.0h-1.7zM152.80 170.5h1.7V175.1h-1.7zM156.81 170.0h1.7V177.0h-1.7zM158.82 175.0h1.7V184.4h-1.7zM160.82 177.0h1.7V186.0h-1.7zM166.85 173.5h1.7V177.7h-1.7zM170.86 173.5h1.7V176.9h-1.7zM186.92 159.3h1.7V166.8h-1.7zM192.94 155.0h1.7V160.1h-1.7zM194.95 157.6h1.7V163.5h-1.7zM196.95 159.3h1.7V165.1h-1.7zM198.96 161.8h1.7V167.6h-1.7zM200.97 165.0h1.7V170.0h-1.7zM202.97 167.6h1.7V172.7h-1.7zM221.04 151.0h1.7V156.0h-1.7zM223.04 152.6h1.7V156.8h-1.7zM229.07 149.2h1.7V153.4h-1.7zM231.07 150.0h1.7V154.3h-1.7zM235.09 148.4h1.7V152.6h-1.7zM237.09 147.6h1.7V152.2h-1.7zM241.11 145.0h1.7V150.0h-1.7zM243.12 146.7h1.7V150.0h-1.7zM245.12 147.6h1.7V151.0h-1.7zM255.16 135.9h1.7V154.3h-1.7zM259.17 143.4h1.7V150.0h-1.7zM261.18 146.0h1.7V152.6h-1.7zM267.20 147.6h1.7V152.6h-1.7zM273.22 144.2h1.7V148.4h-1.7zM275.23 145.0h1.7V148.4h-1.7zM277.24 146.7h1.7V152.6h-1.7zM279.24 150.0h1.7V153.4h-1.7zM283.26 150.0h1.7V158.4h-1.7zM285.26 155.0h1.7V161.0h-1.7zM291.28 153.4h1.7V159.3h-1.7zM293.29 154.3h1.7V160.1h-1.7zM297.31 155.9h1.7V161.0h-1.7zM299.31 158.4h1.7V166.0h-1.7zM301.32 162.6h1.7V170.0h-1.7zM303.33 166.8h1.7V175.0h-1.7zM305.33 172.7h1.7V178.5h-1.7zM307.34 175.2h1.7V180.2h-1.7zM315.37 171.8h1.7V176.0h-1.7zM321.39 171.8h1.7V176.0h-1.7zM323.40 173.5h1.7V178.5h-1.7zM325.41 175.2h1.7V179.3h-1.7zM337.45 166.8h1.7V178.5h-1.7zM339.45 175.0h1.7V185.2h-1.7zM341.46 182.7h1.7V200.3h-1.7zM347.48 193.6h1.7V199.4h-1.7zM349.49 193.6h1.7V198.6h-1.7zM351.50 195.2h1.7V201.0h-1.7zM353.50 196.1h1.7V202.7h-1.7zM355.51 197.0h1.7V204.4h-1.7zM357.52 201.9h1.7V210.2h-1.7zM359.53 205.2h1.7V211.0h-1.7zM371.57 197.7h1.7V201.9h-1.7zM373.58 198.5h1.7V204.4h-1.7zM375.58 201.9h1.7V206.0h-1.7zM381.60 201.9h1.7V206.0h-1.7zM391.64 193.5h1.7V197.7h-1.7zM393.65 193.5h1.7V198.5h-1.7zM395.65 194.3h1.7V199.4h-1.7zM397.66 196.0h1.7V200.2h-1.7zM399.67 197.7h1.7V201.9h-1.7zM401.67 198.5h1.7V204.4h-1.7zM411.71 191.0h1.7V195.2h-1.7zM413.72 191.8h1.7V196.0h-1.7zM417.73 191.8h1.7V196.0h-1.7zM419.74 193.5h1.7V197.7h-1.7zM421.75 194.3h1.7V198.5h-1.7zM427.77 191.8h1.7V196.0h-1.7zM429.77 193.5h1.7V198.5h-1.7zM431.78 195.2h1.7V200.2h-1.7zM437.80 191.0h1.7V195.2h-1.7zM439.81 191.8h1.7V196.0h-1.7zM441.82 193.5h1.7V201.9h-1.7zM445.83 196.0h1.7V200.2h-1.7zM449.84 196.0h1.7V201.9h-1.7zM451.85 196.9h1.7V203.5h-1.7zM455.87 197.7h1.7V204.4h-1.7zM467.91 166.8h1.7V172.6h-1.7zM469.92 167.6h1.7V173.4h-1.7zM475.94 165.9h1.7V170.1h-1.7zM479.95 160.9h1.7V168.4h-1.7zM481.96 165.0h1.7V170.9h-1.7zM489.99 161.7h1.7V167.6h-1.7zM491.99 164.2h1.7V167.6h-1.7zM508.05 157.6h1.7V162.6h-1.7zM510.06 159.2h1.7V163.4h-1.7zM514.07 159.2h1.7V164.2h-1.7zM516.08 160.9h1.7V165.0h-1.7zM520.09 152.5h1.7V158.4h-1.7zM522.10 154.2h1.7V160.9h-1.7zM524.11 156.7h1.7V163.4h-1.7zM526.11 160.0h1.7V166.8h-1.7zM532.14 160.5h1.7V166.7h-1.7zM534.14 162.5h1.7V167.6h-1.7zM536.15 164.2h1.7V175.1h-1.7zM540.16 173.4h1.7V176.8h-1.7zM542.17 175.1h1.7V184.3h-1.7zM544.18 178.4h1.7V182.6h-1.7zM546.18 178.4h1.7V186.0h-1.7zM548.19 185.1h1.7V189.3h-1.7zM550.20 186.0h1.7V191.8h-1.7zM554.21 189.3h1.7V193.5h-1.7zM556.22 191.0h1.7V195.2h-1.7zM562.24 189.3h1.7V192.6h-1.7zM564.25 190.1h1.7V194.3h-1.7zM566.26 192.6h1.7V200.2h-1.7zM582.31 186.8h1.7V191.8h-1.7zM584.32 189.3h1.7V194.3h-1.7zM586.33 191.0h1.7V198.5h-1.7zM596.36 185.1h1.7V189.3h-1.7zM598.37 186.0h1.7V191.0h-1.7zM602.38 187.6h1.7V191.8h-1.7zM604.39 189.3h1.7V193.5h-1.7zM610.41 186.8h1.7V191.0h-1.7zM612.42 188.5h1.7V191.8h-1.7zM614.43 189.3h1.7V193.5h-1.7zM616.43 190.1h1.7V194.3h-1.7zM618.44 191.0h1.7V195.2h-1.7zM630.48 187.6h1.7V191.0h-1.7zM632.49 188.5h1.7V196.0h-1.7zM634.50 193.5h1.7V200.2h-1.7zM642.52 192.6h1.7V196.8h-1.7zM644.53 193.5h1.7V199.3h-1.7zM646.54 196.0h1.7V200.2h-1.7zM648.55 196.8h1.7V202.7h-1.7zM654.57 195.2h1.7V199.3h-1.7zM656.57 196.8h1.7V200.2h-1.7zM658.58 197.7h1.7V201.0h-1.7zM662.60 196.8h1.7V202.7h-1.7zM664.60 200.2h1.7V220.2h-1.7zM666.61 218.0h1.7V229.0h-1.7zM672.63 225.9h1.7V240.0h-1.7zM674.64 239.2h1.7V256.0h-1.7zM676.65 252.6h1.7V256.8h-1.7zM680.66 255.1h1.7V261.8h-1.7zM684.67 255.1h1.7V261.0h-1.7zM688.69 256.0h1.7V261.0h-1.7zM690.69 256.8h1.7V262.7h-1.7zM692.70 259.3h1.7V264.3h-1.7zM694.71 261.8h1.7V266.8h-1.7zM696.72 263.5h1.7V268.5h-1.7zM700.73 264.3h1.7V270.2h-1.7zM710.77 260.2h1.7V265.2h-1.7zM712.77 262.7h1.7V268.5h-1.7zM714.78 265.2h1.7V270.2h-1.7zM716.79 266.0h1.7V271.9h-1.7zM720.80 266.0h1.7V270.2h-1.7zM726.82 258.5h1.7V262.7h-1.7zM728.83 258.5h1.7V263.5h-1.7zM730.84 258.5h1.7V263.5h-1.7zM732.84 259.3h1.7V264.3h-1.7zM734.85 261.0h1.7V265.2h-1.7zM738.86 260.2h1.7V265.2h-1.7zM740.87 261.0h1.7V266.8h-1.7zM742.88 262.7h1.7V268.5h-1.7zM746.89 261.8h1.7V269.3h-1.7zM748.90 265.2h1.7V272.7h-1.7zM754.92 265.2h1.7V269.3h-1.7zM762.95 266.0h1.7V270.2h-1.7zM764.96 266.0h1.7V271.0h-1.7zM766.96 268.5h1.7V279.4h-1.7zM774.99 267.7h1.7V271.0h-1.7zM783.02 263.5h1.7V267.7h-1.7zM785.03 264.3h1.7V268.5h-1.7zM787.03 263.5h1.7V269.3h-1.7zM791.05 264.5h1.7V269.1h-1.7zM797.07 266.8h1.7V272.9h-1.7zM801.08 269.8h1.7V276.7h-1.7zM803.09 272.9h1.7V277.5h-1.7zM805.10 274.4h1.7V278.2h-1.7zM807.11 275.2h1.7V279.8h-1.7zM809.11 276.0h1.7V280.5h-1.7zM813.13 277.5h1.7V284.4h-1.7zM815.13 279.8h1.7V287.4h-1.7zM817.14 280.5h1.7V287.4h-1.7zM821.16 281.3h1.7V289.0h-1.7zM829.18 284.4h1.7V290.5h-1.7zM831.19 287.4h1.7V292.0h-1.7zM839.22 285.9h1.7V296.6h-1.7zM841.23 292.8h1.7V298.1h-1.7zM843.23 296.6h1.7V304.0h-1.7zM847.25 295.1h1.7V298.9h-1.7zM849.25 295.8h1.7V299.7h-1.7zM851.26 295.1h1.7V300.4h-1.7zM853.27 297.4h1.7V304.3h-1.7zM859.29 292.8h1.7V296.6h-1.7zM863.30 292.8h1.7V296.6h-1.7zM867.32 292.0h1.7V295.8h-1.7zM869.33 292.0h1.7V296.6h-1.7zM873.34 292.8h1.7V297.4h-1.7zM875.35 295.1h1.7V300.4h-1.7zM877.35 297.4h1.7V302.0h-1.7z" fill="#ee4452"/>
<text x="1038.62" y="419.30" font-family="Liberation Sans, sans-serif" font-size="9.3" font-weight="normal" fill="#b2b5be" textLength="22.86" lengthAdjust="spacingAndGlyphs" stroke="#b2b5be" stroke-width="0.3">1.000</text><text x="1038.62" y="388.05" font-family="Liberation Sans, sans-serif" font-size="9.3" font-weight="normal" fill="#b2b5be" textLength="22.86" lengthAdjust="spacingAndGlyphs" stroke="#b2b5be" stroke-width="0.3">1.100</text><text x="1038.62" y="356.80" font-family="Liberation Sans, sans-serif" font-size="9.3" font-weight="normal" fill="#b2b5be" textLength="22.86" lengthAdjust="spacingAndGlyphs" stroke="#b2b5be" stroke-width="0.3">1.200</text><text x="1038.62" y="231.80" font-family="Liberation Sans, sans-serif" font-size="9.3" font-weight="normal" fill="#b2b5be" textLength="22.86" lengthAdjust="spacingAndGlyphs" stroke="#b2b5be" stroke-width="0.3">1.600</text><text x="1038.62" y="200.55" font-family="Liberation Sans, sans-serif" font-size="9.3" font-weight="normal" fill="#b2b5be" textLength="22.86" lengthAdjust="spacingAndGlyphs" stroke="#b2b5be" stroke-width="0.3">1.700</text><text x="1038.62" y="169.30" font-family="Liberation Sans, sans-serif" font-size="9.3" font-weight="normal" fill="#b2b5be" textLength="22.86" lengthAdjust="spacingAndGlyphs" stroke="#b2b5be" stroke-width="0.3">1.800</text><text x="1038.62" y="138.05" font-family="Liberation Sans, sans-serif" font-size="9.3" font-weight="normal" fill="#b2b5be" textLength="22.86" lengthAdjust="spacingAndGlyphs" stroke="#b2b5be" stroke-width="0.3">1.900</text><text x="1038.62" y="106.80" font-family="Liberation Sans, sans-serif" font-size="9.3" font-weight="normal" fill="#b2b5be" textLength="22.86" lengthAdjust="spacingAndGlyphs" stroke="#b2b5be" stroke-width="0.3">2.000</text><text x="1038.62" y="75.55" font-family="Liberation Sans, sans-serif" font-size="9.3" font-weight="normal" fill="#b2b5be" textLength="22.86" lengthAdjust="spacingAndGlyphs" stroke="#b2b5be" stroke-width="0.3">2.100</text>
<rect x="1033" y="176.5" width="32.2" height="12.70" fill="#ffffff"/><text x="1039.92" y="185.70" font-family="Liberation Sans, sans-serif" font-size="9.3" font-weight="normal" fill="#131722" textLength="21.76" lengthAdjust="spacingAndGlyphs" stroke="#131722" stroke-width="0.3">1.749</text><rect x="1033" y="238" width="32.2" height="12.20" fill="#0c0cf5"/><text x="1039.92" y="246.95" font-family="Liberation Sans, sans-serif" font-size="9.3" font-weight="normal" fill="#ffffff" textLength="21.76" lengthAdjust="spacingAndGlyphs" stroke="#ffffff" stroke-width="0.3">1.540</text><rect x="1033" y="250.2" width="32.2" height="12.80" fill="#ffffff"/><text x="1039.92" y="259.45" font-family="Liberation Sans, sans-serif" font-size="9.3" font-weight="normal" fill="#131722" textLength="21.76" lengthAdjust="spacingAndGlyphs" stroke="#131722" stroke-width="0.3">1.499</text><rect x="1033" y="263" width="32.2" height="13.00" fill="#00ecec"/><text x="1039.92" y="272.35" font-family="Liberation Sans, sans-serif" font-size="9.3" font-weight="normal" fill="#131722" textLength="21.76" lengthAdjust="spacingAndGlyphs" stroke="#131722" stroke-width="0.3">1.462</text><rect x="1033" y="276" width="32.2" height="12.20" fill="#fb7d0c"/><text x="1039.92" y="284.95" font-family="Liberation Sans, sans-serif" font-size="9.3" font-weight="normal" fill="#ffffff" textLength="21.76" lengthAdjust="spacingAndGlyphs" stroke="#ffffff" stroke-width="0.3">1.413</text><rect x="992.6" y="288.2" width="72.6" height="12.5" rx="1.5" fill="#e5404f"/><text x="996.32" y="297.35" font-family="Liberation Sans, sans-serif" font-size="9.3" font-weight="normal" fill="#ffffff" textLength="32.66" lengthAdjust="spacingAndGlyphs" stroke="#ffffff" stroke-width="0.3">TIAUSDT</text><text x="1039.92" y="297.35" font-family="Liberation Sans, sans-serif" font-size="9.3" font-weight="normal" fill="#ffffff" textLength="21.76" lengthAdjust="spacingAndGlyphs" stroke="#ffffff" stroke-width="0.3">1.390</text><rect x="1033" y="301.6" width="32.2" height="11.80" fill="#fa0000"/><text x="1039.92" y="310.35" font-family="Liberation Sans, sans-serif" font-size="9.3" font-weight="normal" fill="#ffffff" textLength="21.76" lengthAdjust="spacingAndGlyphs" stroke="#ffffff" stroke-width="0.3">1.390</text><rect x="1033" y="313.4" width="32.2" height="12.60" fill="#ffffff"/><text x="1039.92" y="322.55" font-family="Liberation Sans, sans-serif" font-size="9.3" font-weight="normal" fill="#131722" textLength="21.76" lengthAdjust="spacingAndGlyphs" stroke="#131722" stroke-width="0.3">1.335</text><rect x="1033" y="330" width="32.2" height="12.40" fill="#ffffff"/><text x="1039.92" y="339.05" font-family="Liberation Sans, sans-serif" font-size="9.3" font-weight="normal" fill="#131722" textLength="21.76" lengthAdjust="spacingAndGlyphs" stroke="#131722" stroke-width="0.3">1.257</text>
<rect x="1035.6" y="23.3" width="34.1" height="18.4" rx="3.5" fill="#111111" stroke="#2c2c2c" stroke-width="0.8"/>
<text x="1041.60" y="36.00" font-family="Liberation Sans, sans-serif" font-size="9.9" font-weight="normal" fill="#d6d6d6" textLength="21.49" lengthAdjust="spacingAndGlyphs" stroke="#d6d6d6" stroke-width="0.3">USDT</text>
<text x="27.2" y="438.3" text-anchor="middle" font-family="Liberation Sans, sans-serif" font-size="9.8" fill="#b2b5be" font-weight="normal">9</text><text x="75.4" y="438.3" text-anchor="middle" font-family="Liberation Sans, sans-serif" font-size="9.8" fill="#b2b5be" font-weight="normal">10</text><text x="123.5" y="438.3" text-anchor="middle" font-family="Liberation Sans, sans-serif" font-size="9.8" fill="#b2b5be" font-weight="normal">11</text><text x="171.7" y="438.3" text-anchor="middle" font-family="Liberation Sans, sans-serif" font-size="9.8" fill="#b2b5be" font-weight="normal">12</text><text x="219.9" y="438.3" text-anchor="middle" font-family="Liberation Sans, sans-serif" font-size="9.8" fill="#b2b5be" font-weight="normal">13</text><text x="268.1" y="438.3" text-anchor="middle" font-family="Liberation Sans, sans-serif" font-size="9.8" fill="#b2b5be" font-weight="normal">14</text><text x="316.2" y="438.3" text-anchor="middle" font-family="Liberation Sans, sans-serif" font-size="9.8" fill="#b2b5be" font-weight="bold">15</text><text x="364.4" y="438.3" text-anchor="middle" font-family="Liberation Sans, sans-serif" font-size="9.8" fill="#b2b5be" font-weight="normal">16</text><text x="412.6" y="438.3" text-anchor="middle" font-family="Liberation Sans, sans-serif" font-size="9.8" fill="#b2b5be" font-weight="normal">17</text><text x="460.7" y="438.3" text-anchor="middle" font-family="Liberation Sans, sans-serif" font-size="9.8" fill="#b2b5be" font-weight="normal">18</text><text x="508.9" y="438.3" text-anchor="middle" font-family="Liberation Sans, sans-serif" font-size="9.8" fill="#b2b5be" font-weight="normal">19</text><text x="557.1" y="438.3" text-anchor="middle" font-family="Liberation Sans, sans-serif" font-size="9.8" fill="#b2b5be" font-weight="normal">20</text><text x="605.2" y="438.3" text-anchor="middle" font-family="Liberation Sans, sans-serif" font-size="9.8" fill="#b2b5be" font-weight="normal">21</text><text x="653.4" y="438.3" text-anchor="middle" font-family="Liberation Sans, sans-serif" font-size="9.8" fill="#b2b5be" font-weight="bold">22</text><text x="701.6" y="438.3" text-anchor="middle" font-family="Liberation Sans, sans-serif" font-size="9.8" fill="#b2b5be" font-weight="normal">23</text><text x="749.8" y="438.3" text-anchor="middle" font-family="Liberation Sans, sans-serif" font-size="9.8" fill="#b2b5be" font-weight="normal">24</text><text x="797.9" y="438.3" text-anchor="middle" font-family="Liberation Sans, sans-serif" font-size="9.8" fill="#b2b5be" font-weight="normal">25</text><text x="846.1" y="438.3" text-anchor="middle" font-family="Liberation Sans, sans-serif" font-size="9.8" fill="#b2b5be" font-weight="normal">26</text><text x="894.3" y="438.3" text-anchor="middle" font-family="Liberation Sans, sans-serif" font-size="9.8" fill="#b2b5be" font-weight="normal">27</text><text x="942.4" y="438.3" text-anchor="middle" font-family="Liberation Sans, sans-serif" font-size="9.8" fill="#b2b5be" font-weight="normal">28</text><text x="990.6" y="438.3" text-anchor="middle" font-family="Liberation Sans, sans-serif" font-size="9.8" fill="#b2b5be" font-weight="normal">29</text>
<text x="7.52" y="14.60" font-family="Liberation Sans, sans-serif" font-size="9.3" font-weight="normal" fill="#d4d4d4" textLength="311.66" lengthAdjust="spacingAndGlyphs" stroke="#d4d4d4" stroke-width="0.4">workwithshayan created with TradingView.com, Sep 26, 2025 19:52 UTC+5:30</text><text x="13.91" y="34.80" font-family="Liberation Sans, sans-serif" font-size="9.7" font-weight="normal" fill="#b2b5be" textLength="116.98" lengthAdjust="spacingAndGlyphs">TIA / TetherUS · 1h · Binance</text><text x="135.81" y="34.80" font-family="Liberation Sans, sans-serif" font-size="9.7" font-weight="normal" fill="#b2b5be" textLength="6.68" lengthAdjust="spacingAndGlyphs">O</text><text x="142.11" y="34.80" font-family="Liberation Sans, sans-serif" font-size="9.7" font-weight="normal" fill="#e5404d" textLength="22.08" lengthAdjust="spacingAndGlyphs">1.402</text><text x="169.51" y="34.80" font-family="Liberation Sans, sans-serif" font-size="9.7" font-weight="normal" fill="#b2b5be" textLength="6.88" lengthAdjust="spacingAndGlyphs">H</text><text x="176.01" y="34.80" font-family="Liberation Sans, sans-serif" font-size="9.7" font-weight="normal" fill="#e5404d" textLength="21.48" lengthAdjust="spacingAndGlyphs">1.406</text><text x="202.81" y="34.80" font-family="Liberation Sans, sans-serif" font-size="9.7" font-weight="normal" fill="#b2b5be" textLength="5.08" lengthAdjust="spacingAndGlyphs">L</text><text x="207.71" y="34.80" font-family="Liberation Sans, sans-serif" font-size="9.7" font-weight="normal" fill="#e5404d" textLength="21.98" lengthAdjust="spacingAndGlyphs">1.389</text><text x="234.51" y="34.80" font-family="Liberation Sans, sans-serif" font-size="9.7" font-weight="normal" fill="#b2b5be" textLength="6.38" lengthAdjust="spacingAndGlyphs">C</text><text x="240.51" y="34.80" font-family="Liberation Sans, sans-serif" font-size="9.7" font-weight="normal" fill="#e5404d" textLength="21.48" lengthAdjust="spacingAndGlyphs">1.390</text><text x="267.51" y="34.80" font-family="Liberation Sans, sans-serif" font-size="9.7" font-weight="normal" fill="#e5404d" textLength="26.08" lengthAdjust="spacingAndGlyphs">−0.012</text><text x="296.91" y="34.80" font-family="Liberation Sans, sans-serif" font-size="9.7" font-weight="normal" fill="#e5404d" textLength="33.98" lengthAdjust="spacingAndGlyphs">(−0.86%)</text><text x="13.91" y="47.30" font-family="Liberation Sans, sans-serif" font-size="9.7" font-weight="normal" fill="#b2b5be" textLength="79.68" lengthAdjust="spacingAndGlyphs">EMA 20/50/100/200</text><text x="99.51" y="47.30" font-family="Liberation Sans, sans-serif" font-size="9.7" font-weight="normal" fill="#e8141c" textLength="21.88" lengthAdjust="spacingAndGlyphs">1.390</text><text x="126.91" y="47.30" font-family="Liberation Sans, sans-serif" font-size="9.7" font-weight="normal" fill="#f0861a" textLength="21.68" lengthAdjust="spacingAndGlyphs">1.413</text><text x="154.11" y="47.30" font-family="Liberation Sans, sans-serif" font-size="9.7" font-weight="normal" fill="#1ccfd2" textLength="21.78" lengthAdjust="spacingAndGlyphs">1.462</text><text x="181.91" y="47.30" font-family="Liberation Sans, sans-serif" font-size="9.7" font-weight="normal" fill="#1414c8" textLength="21.68" lengthAdjust="spacingAndGlyphs">1.540</text>
</g>
<rect x="0" y="435" width="1080" height="55" fill="#000"/>
<text x="453.46" y="467.80" font-family="Liberation Mono, sans-serif" font-size="14.8" font-weight="normal" fill="#ffffff" textLength="171.29" lengthAdjust="spacingAndGlyphs" stroke="#ffffff" stroke-width="0.15">NEWS 2026 NURULAMIN</text>
</svg>
</body></html>
